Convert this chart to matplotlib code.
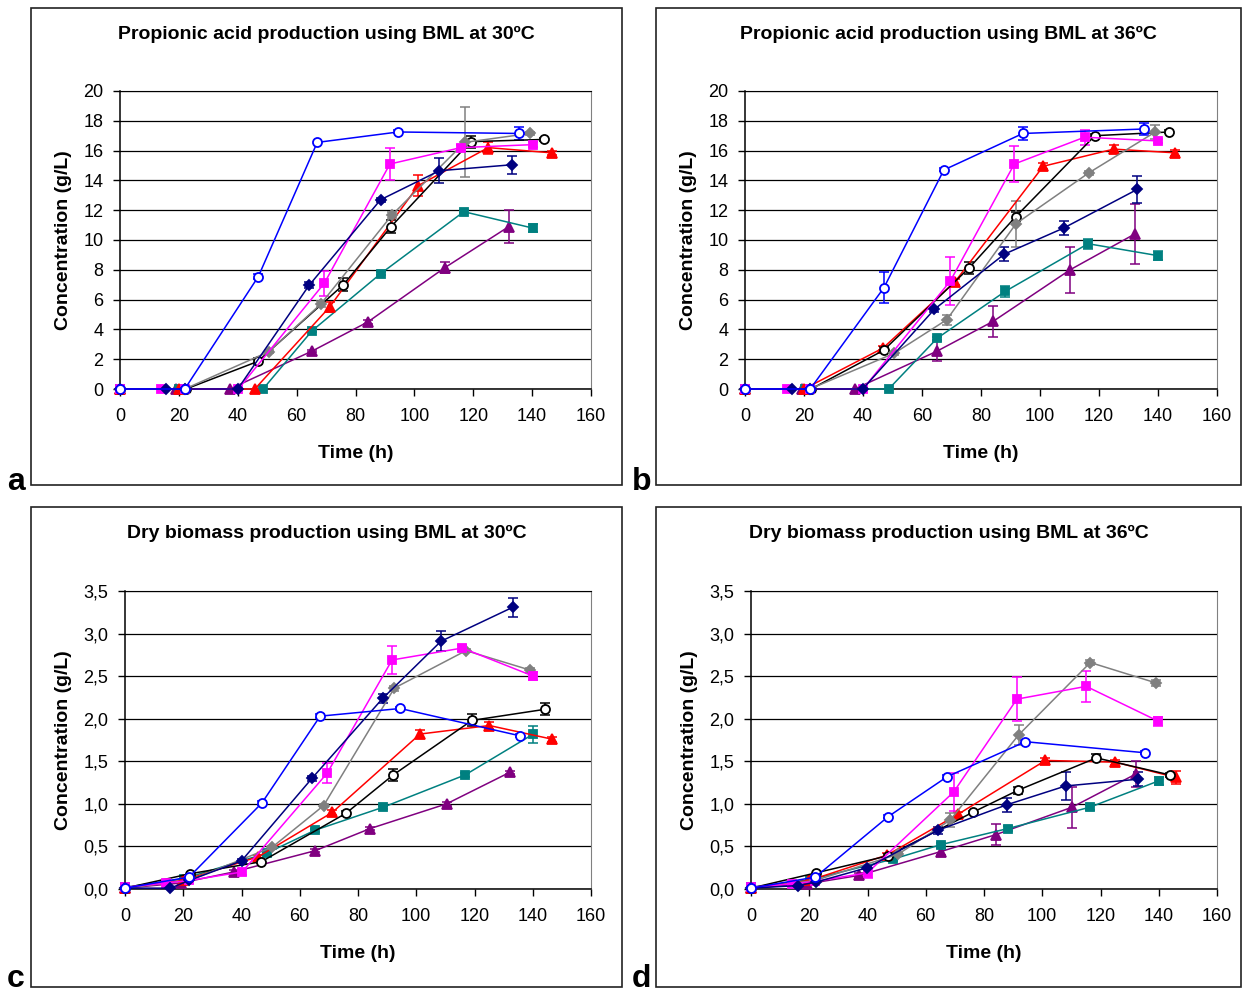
import matplotlib
matplotlib.use('Agg')
import matplotlib.pyplot as plt
from matplotlib.patches import Rectangle
from matplotlib.ticker import FuncFormatter

plt.rcParams['font.family'] = ['Liberation Sans', 'DejaVu Sans']

W, H = 1244, 994

# sampling times (h), 30ºC runs (panels a, c) and 36ºC runs (panels b, d)
t30_blue = [0, 22, 47, 67, 94.5, 135.5]
t30_navy = [0, 15.6, 22, 40, 64.2, 88.5, 108.5, 133.2]
t30_magenta = [0, 14, 22, 40.2, 69.4, 91.7, 115.8, 140.2]
t30_gray = [0, 22, 50.5, 68.2, 92.5, 117.1, 139.2]
t30_black = [0, 22.4, 46.8, 75.9, 92.1, 119.1, 144.1]
t30_red = [0, 20, 45.8, 71.2, 101.3, 125.1, 146.6]
t30_teal = [0, 20.1, 48.6, 65.2, 88.6, 116.8, 140.2]
t30_purple = [0, 19.1, 37.3, 65.3, 84.2, 110.4, 132.1]

t36_blue = [0, 22.1, 47.1, 67.4, 94.2, 135.3]
t36_navy = [0, 16, 22.2, 39.9, 64.2, 87.9, 108, 133]
t36_magenta = [0, 14.1, 22, 40, 69.6, 91.3, 115.1, 139.9]
t36_gray = [0, 22, 50.6, 68.4, 91.9, 116.5, 139.1]
t36_black = [0, 22.4, 47, 76.1, 91.7, 118.6, 143.8]
t36_red = [0, 20, 46.8, 71.2, 101.1, 125, 145.9]
t36_teal = [0, 20.4, 48.7, 65.1, 88.2, 116.3, 140]
t36_purple = [0, 19.2, 37.2, 65.2, 84.2, 110.2, 132.1]

# a: propionic acid 30ºC (g/L)
a_blue = [0, 0, 7.55, 16.55, 17.25, 17.15]
a_blue_err = [0, 0, 0.15, 0, 0.1, 0.45]
a_navy = [0, 0, 0, 0, 6.95, 12.7, 14.65, 15.05]
a_navy_err = [0, 0, 0, 0, 0.2, 0.15, 0.85, 0.6]
a_magenta = [0, 0, 0, 0, 7.1, 15.1, 16.2, 16.4]
a_magenta_err = [0, 0, 0, 0, 0.85, 1.1, 0.15, 0.15]
a_gray = [0, 0, 2.5, 5.7, 11.7, 16.55, 17.15]
a_gray_err = [0, 0, 0.1, 0.2, 0.2, 2.35, 0.1]
a_black = [0, 0, 1.85, 7.0, 10.9, 16.6, 16.75]
a_black_err = [0, 0, 0.2, 0.45, 0.45, 0.4, 0.1]
a_red = [0, 0, 0, 5.5, 13.65, 16.2, 15.85]
a_red_err = [0, 0, 0, 0.35, 0.7, 0.4, 0.15]
a_teal = [0, 0, 0, 3.9, 7.75, 11.9, 10.8]
a_teal_err = [0, 0, 0, 0.1, 0.1, 0.1, 0.25]
a_purple = [0, 0, 0, 2.55, 4.5, 8.15, 10.9]
a_purple_err = [0, 0, 0, 0.1, 0.15, 0.35, 1.1]

# b: propionic acid 36ºC (g/L)
b_blue = [0, 0, 6.8, 14.7, 17.15, 17.45]
b_blue_err = [0, 0, 1.05, 0.1, 0.45, 0.4]
b_navy = [0, 0, 0, 0, 5.35, 9.05, 10.8, 13.4]
b_navy_err = [0, 0, 0, 0, 0.15, 0.45, 0.45, 0.9]
b_magenta = [0, 0, 0, 0, 7.25, 15.1, 16.9, 16.65]
b_magenta_err = [0, 0, 0, 0, 1.6, 1.2, 0.5, 0.15]
b_gray = [0, 0, 2.4, 4.65, 11.1, 14.5, 17.25]
b_gray_err = [0, 0, 0.1, 0.35, 1.55, 0.15, 0.45]
b_black = [0, 0, 2.6, 8.15, 11.55, 17.0, 17.25]
b_black_err = [0, 0, 0.2, 0.4, 0.3, 0.1, 0.1]
b_red = [0, 0, 2.75, 7.2, 14.95, 16.1, 15.85]
b_red_err = [0, 0, 0.15, 0.2, 0.2, 0.25, 0.2]
b_teal = [0, 0, 0, 3.4, 6.55, 9.75, 8.95]
b_teal_err = [0, 0, 0, 0.1, 0.35, 0.35, 0.3]
b_purple = [0, 0, 0, 2.55, 4.55, 8.0, 10.4]
b_purple_err = [0, 0, 0, 0.7, 1.05, 1.55, 2.0]

# c: dry biomass 30ºC (g/L)
c_blue = [0.01, 0.14, 1.01, 2.03, 2.12, 1.8]
c_blue_err = [0, 0, 0.02, 0.02, 0.02, 0.02]
c_navy = [0.01, 0.01, 0.1, 0.33, 1.3, 2.24, 2.91, 3.31]
c_navy_err = [0, 0, 0, 0.02, 0.03, 0.05, 0.12, 0.11]
c_magenta = [0.02, 0.07, 0.1, 0.2, 1.36, 2.69, 2.83, 2.5]
c_magenta_err = [0, 0, 0, 0.03, 0.12, 0.16, 0.03, 0.05]
c_gray = [0.01, 0.1, 0.49, 0.98, 2.36, 2.8, 2.57]
c_gray_err = [0, 0, 0.02, 0.02, 0.03, 0.02, 0.03]
c_black = [0.01, 0.18, 0.32, 0.89, 1.34, 1.98, 2.11]
c_black_err = [0, 0, 0.02, 0.03, 0.07, 0.07, 0.07]
c_red = [0.01, 0.1, 0.38, 0.9, 1.82, 1.92, 1.76]
c_red_err = [0, 0, 0.02, 0.03, 0.05, 0.04, 0.03]
c_teal = [0.02, 0.12, 0.42, 0.69, 0.96, 1.34, 1.82]
c_teal_err = [0, 0, 0.02, 0.02, 0.02, 0.02, 0.1]
c_purple = [0.01, 0.07, 0.2, 0.45, 0.71, 1.0, 1.37]
c_purple_err = [0, 0, 0.02, 0.02, 0.02, 0.02, 0.02]

# d: dry biomass 36ºC (g/L)
d_blue = [0.01, 0.14, 0.85, 1.32, 1.73, 1.6]
d_blue_err = [0, 0, 0.02, 0.02, 0.02, 0.02]
d_navy = [0.01, 0.04, 0.08, 0.25, 0.69, 0.99, 1.21, 1.29]
d_navy_err = [0, 0, 0, 0.02, 0.04, 0.08, 0.16, 0.08]
d_magenta = [0.02, 0.06, 0.09, 0.19, 1.14, 2.23, 2.38, 1.97]
d_magenta_err = [0, 0, 0, 0.06, 0.22, 0.26, 0.18, 0.05]
d_gray = [0.01, 0.1, 0.41, 0.81, 1.81, 2.66, 2.42]
d_gray_err = [0, 0, 0.02, 0.08, 0.12, 0.03, 0.03]
d_black = [0.01, 0.19, 0.39, 0.9, 1.16, 1.54, 1.34]
d_black_err = [0, 0, 0.02, 0.02, 0.04, 0.04, 0.02]
d_red = [0.01, 0.1, 0.4, 0.88, 1.51, 1.49, 1.31]
d_red_err = [0, 0, 0.02, 0.03, 0.03, 0.03, 0.08]
d_teal = [0.02, 0.11, 0.35, 0.52, 0.71, 0.96, 1.27]
d_teal_err = [0, 0, 0.02, 0.02, 0.03, 0.03, 0.05]
d_purple = [0.01, 0.06, 0.16, 0.44, 0.64, 0.96, 1.35]
d_purple_err = [0, 0, 0.03, 0.04, 0.12, 0.24, 0.15]

titles = ['Propionic acid production using BML at 30ºC',
          'Propionic acid production using BML at 36ºC',
          'Dry biomass production using BML at 30ºC',
          'Dry biomass production using BML at 36ºC']
letters = ['a', 'b', 'c', 'd']
x_ticks = [0, 20, 40, 60, 80, 100, 120, 140, 160]
acid_ticks = [0, 2, 4, 6, 8, 10, 12, 14, 16, 18, 20]
biomass_ticks = [0, 0.5, 1.0, 1.5, 2.0, 2.5, 3.0, 3.5]

# series styles: colour, marker, size, face
styles = {
    'purple': ('#800080', '^', 7, '#800080'),
    'teal': ('#008080', 's', 6, '#008080'),
    'red': ('#FF0000', '^', 7, '#FF0000'),
    'black': ('#000000', 'o', 6.5, 'white'),
    'gray': ('#808080', 'D', 5.5, '#808080'),
    'magenta': ('#FF00FF', 's', 6, '#FF00FF'),
    'navy': ('#000080', 'D', 5.5, '#000080'),
    'blue': ('#0000FF', 'o', 6.5, 'white'),
}
times30 = {'blue': t30_blue, 'navy': t30_navy, 'magenta': t30_magenta, 'gray': t30_gray,
           'black': t30_black, 'red': t30_red, 'teal': t30_teal, 'purple': t30_purple}
times36 = {'blue': t36_blue, 'navy': t36_navy, 'magenta': t36_magenta, 'gray': t36_gray,
           'black': t36_black, 'red': t36_red, 'teal': t36_teal, 'purple': t36_purple}

panels = [
    (times30, {'blue': (a_blue, a_blue_err), 'navy': (a_navy, a_navy_err), 'magenta': (a_magenta, a_magenta_err),
               'gray': (a_gray, a_gray_err), 'black': (a_black, a_black_err), 'red': (a_red, a_red_err),
               'teal': (a_teal, a_teal_err), 'purple': (a_purple, a_purple_err)}),
    (times36, {'blue': (b_blue, b_blue_err), 'navy': (b_navy, b_navy_err), 'magenta': (b_magenta, b_magenta_err),
               'gray': (b_gray, b_gray_err), 'black': (b_black, b_black_err), 'red': (b_red, b_red_err),
               'teal': (b_teal, b_teal_err), 'purple': (b_purple, b_purple_err)}),
    (times30, {'blue': (c_blue, c_blue_err), 'navy': (c_navy, c_navy_err), 'magenta': (c_magenta, c_magenta_err),
               'gray': (c_gray, c_gray_err), 'black': (c_black, c_black_err), 'red': (c_red, c_red_err),
               'teal': (c_teal, c_teal_err), 'purple': (c_purple, c_purple_err)}),
    (times36, {'blue': (d_blue, d_blue_err), 'navy': (d_navy, d_navy_err), 'magenta': (d_magenta, d_magenta_err),
               'gray': (d_gray, d_gray_err), 'black': (d_black, d_black_err), 'red': (d_red, d_red_err),
               'teal': (d_teal, d_teal_err), 'purple': (d_purple, d_purple_err)}),
]

# pixel layout: plot area (left, right, top, bottom), outer box (left, right, top, bottom)
plot_px = [(120, 591, 91, 389), (745, 1217, 91, 389), (125, 591, 591, 889), (751, 1217, 591, 889)]
box_px = [(31, 622, 8, 485), (656, 1241, 8, 485), (31, 622, 507, 987), (656, 1241, 507, 987)]
letter_px = [(7, 490), (632, 490), (7, 987), (632, 987)]

fig = plt.figure(figsize=(W / 100, H / 100), dpi=100)

for i in range(4):
    l, r, t, b = plot_px[i]
    ax = fig.add_axes([l / W, 1 - b / H, (r - l) / W, (b - t) / H])
    times, series = panels[i]
    for name in ['purple', 'teal', 'red', 'black', 'gray', 'magenta', 'navy', 'blue']:
        col, mk, ms, face = styles[name]
        x = times[name]
        y, err = series[name]
        xe = [x[k] for k in range(len(x)) if err[k] > 0]
        ye = [y[k] for k in range(len(y)) if err[k] > 0]
        ee = [e for e in err if e > 0]
        ax.errorbar(xe, ye, yerr=ee, fmt='none', ecolor=col, elinewidth=1.1, capsize=3.5, capthick=1.1, zorder=3)
        ax.plot(x, y, color=col, lw=1.1, marker=mk, markersize=ms, markerfacecolor=face,
                markeredgecolor=col, markeredgewidth=1.3, zorder=4, clip_on=False)
    ax.set_xlim(0, 160)
    ax.set_xticks(x_ticks)
    if i < 2:
        ax.set_ylim(0, 20)
        ax.set_yticks(acid_ticks)
    else:
        ax.set_ylim(0, 3.5)
        ax.set_yticks(biomass_ticks)
        ax.yaxis.set_major_formatter(FuncFormatter(lambda v, p: f'{v:.1f}'.replace('.', ',')))
    ax.grid(axis='y', color='black', lw=0.9)
    ax.set_axisbelow(True)
    for s in ['left', 'bottom']:
        ax.spines[s].set_color('black')
        ax.spines[s].set_linewidth(1.1)
    ax.spines['right'].set_color('#808080')
    ax.spines['top'].set_color('black')
    ax.tick_params(direction='out', length=5, width=1, labelsize=13)
    ax.tick_params(axis='x', pad=9)
    ax.tick_params(axis='y', pad=7)
    ax.set_xlabel('Time (h)', fontsize=14, fontweight='bold', labelpad=14)
    ax.set_ylabel('Concentration (g/L)', fontsize=14, fontweight='bold', labelpad=8)

    bl, br, bt, bb = box_px[i]
    fig.patches.append(Rectangle((bl / W, 1 - bb / H), (br - bl) / W, (bb - bt) / H,
                                 transform=fig.transFigure, fill=False, ec='#222222', lw=1.2))
    fig.text((bl + br) / 2 / W, 1 - (bt + 26) / H, titles[i], ha='center', va='center',
             fontsize=14, fontweight='bold')
    lx, ly = letter_px[i]
    fig.text(lx / W, 1 - ly / H, letters[i], ha='left', va='baseline', fontsize=23, fontweight='bold')

fig.savefig('out.png', dpi=100)
